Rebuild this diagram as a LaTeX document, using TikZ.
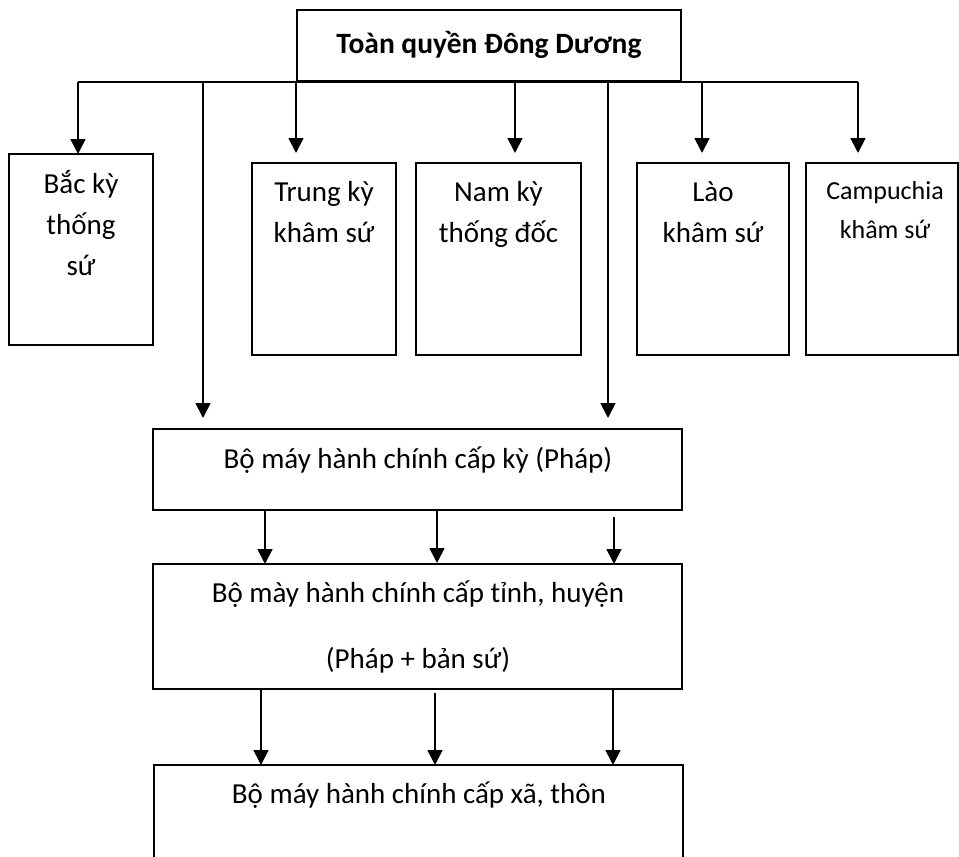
\documentclass[tikz,border=0pt]{standalone}
\usepackage{fontspec}
\setmainfont{Carlito}
\usetikzlibrary{arrows.meta}
\begin{document}
\begin{tikzpicture}[x=1pt,y=-1pt,
  box/.style={draw, line width=1.9pt, inner sep=0pt, outer sep=0pt},
  txt/.style={font=\fontsize{29}{40}\selectfont, inner sep=0pt, anchor=base},
  smalltxt/.style={font=\fontsize{26}{36}\selectfont, inner sep=0pt, anchor=base},
  boldtxt/.style={font=\bfseries\fontsize{29.5}{36}\selectfont, inner sep=0pt, anchor=base},
  arr/.style={line width=1.8pt, -{Triangle[length=15pt,width=15pt]}},
  ln/.style={line width=1.8pt}]
\useasboundingbox (0,0) rectangle (959,857);
\clip (0,0) rectangle (959,857);
% boxes
\node[box, minimum width=384pt, minimum height=71pt] (gg) at (489,45.5) {};
\node[box, minimum width=144pt, minimum height=191pt] (bac) at (81,249.5) {};
\node[box, minimum width=144pt, minimum height=192pt] (trung) at (324,259) {};
\node[box, minimum width=165pt, minimum height=192pt] (nam) at (498.5,259) {};
\node[box, minimum width=152pt, minimum height=192pt] (lao) at (713,259) {};
\node[box, minimum width=152pt, minimum height=192pt] (cam) at (882,259) {};
\node[box, minimum width=529pt, minimum height=81pt] (ky) at (417.5,469.5) {};
\node[box, minimum width=529pt, minimum height=125pt] (tinh) at (417.5,626.5) {};
\node[box, minimum width=529pt, minimum height=200pt] (xa) at (418.5,865) {};
% texts
\node[boldtxt] (tgg) at (489,53) {Toàn quyền Đông Dương};
\node[txt] (tb1) at (81,193) {Bắc kỳ};
\node[txt] (tb2) at (81,234) {thống};
\node[txt] (tb3) at (81,275) {sứ};
\node[txt] (tt1) at (324,201) {Trung kỳ};
\node[txt] (tt2) at (324,242) {khâm sứ};
\node[txt] (tn1) at (498.5,201) {Nam kỳ};
\node[txt] (tn2) at (498.5,242) {thống đốc};
\node[txt] (tl1) at (713,201) {Lào};
\node[txt] (tl2) at (713,242) {khâm sứ};
\node[smalltxt] (tc1) at (885,199) {Campuchia};
\node[smalltxt] (tc2) at (885,238) {khâm sứ};
\node[txt] (tky) at (418,468) {Bộ máy hành chính cấp kỳ (Pháp)};
\node[txt] (tti1) at (418,602) {Bộ mày hành chính cấp tỉnh, huyện};
\node[txt] (tti2) at (418,668) {(Pháp + bản sứ)};
\node[txt] (txa) at (419,803) {Bộ máy hành chính cấp xã, thôn};
% bus
\coordinate (bL) at (78,82);
\coordinate (bR) at (858,82);
\coordinate (aT) at (296,82);
\coordinate (aN) at (515,82);
\coordinate (aL) at (702,82);
\coordinate (lL) at (203,82);
\coordinate (lR) at (608,82);
\draw[ln] (bL) -- (bR);
\draw[arr] (bL) -- (bL |- bac.north);
\draw[arr, shorten >=10pt] (aT) -- (aT |- trung.north);
\draw[arr, shorten >=10pt] (aN) -- (aN |- nam.north);
\draw[arr, shorten >=10pt] (aL) -- (aL |- lao.north);
\draw[arr, shorten >=10pt] (bR) -- (bR |- cam.north);
\draw[arr, shorten >=11pt] (lL) -- (lL |- ky.north);
\draw[arr, shorten >=11pt] (lR) -- (lR |- ky.north);
% ky -> tinh
\coordinate (k1) at (265,0);
\coordinate (k2) at (437,0);
\coordinate (k3) at (614,0);
\draw[arr] (ky.south -| k1) -- (tinh.north -| k1);
\draw[arr, shorten >=1pt] (ky.south -| k2) -- (tinh.north -| k2);
\draw[arr, shorten <=7pt] (ky.south -| k3) -- (tinh.north -| k3);
% tinh -> xa
\coordinate (x1) at (261,0);
\coordinate (x2) at (435,0);
\coordinate (x3) at (613,0);
\draw[arr] (tinh.south -| x1) -- (xa.north -| x1);
\draw[arr, shorten <=4pt] (tinh.south -| x2) -- (xa.north -| x2);
\draw[arr] (tinh.south -| x3) -- (xa.north -| x3);
\end{tikzpicture}
\end{document}
